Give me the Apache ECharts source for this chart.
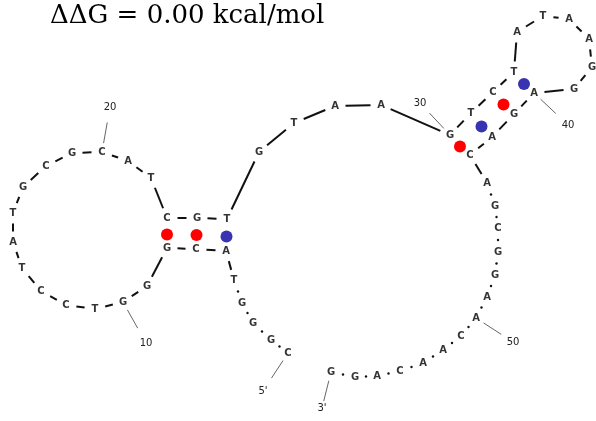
<!DOCTYPE html>
<html>
<head>
<meta charset="utf-8">
<script src="https://cdn.jsdelivr.net/npm/echarts@6/dist/echarts.min.js"></script>
<style>
html,body{margin:0;padding:0;background:#fff;}
#chart{width:596px;height:421px;}
</style>
</head>
<body>
<div id="chart"></div>
<script>
// Sequence (5' -> 3') and nucleotide positions
const seq = "CGGGTACGGGTCCTATGCGCATCGTGTAAGTCTATAAGGAGACAGCGGAACAACAGG".split("");
const posX = [288,271,253,242,234,226,196,167,147,123,95,66,41,22,13,13,23,46,72,102,128,151,167,197,227,259,294,335,381,450,471,493,514,517,543,569,589,592,574,534,514,492,470,487,495,498,498,495,487,476,461,443,423,400,377,355,331];
const posY = [353,340,323,303,280,251,249,248,286,302,309,305,291,268,242,213,187,166,153,152,161,178,218,218,219,152,123,106,105,135,113,92,72,32,16,19,39,67,89,93,114,137,155,183,206,228,252,275,297,318,336,350,363,371,376,377,372];
// dotted backbone links: ranges of link numbers (link n joins nucleotide n and n+1)
const dottedFrom = [1,44];
const dottedTo = [4,56];
// base pairs (1-based positions)
const pairI = [8,7,6,30,31,32,33];
const pairJ = [23,24,25,43,42,41,40];
// numbering ticks: nucleotide index and label text / label anchor
const tickIdx = [1,10,20,30,40,50,57];
const tickText = ["5'","10","20","30","40","50","3'"];
const tickLabX = [263,146,110,420,568,513,322];
const tickLabY = [391,343,107,103,125,342,408];
const titleText = "\u0394\u0394G = 0.00 kcal/mol";

const links = [];
for (let i = 0; i < seq.length - 1; i++) {
  const n = i + 1;
  let s = "L";
  for (let k = 0; k < dottedFrom.length; k++) if (n >= dottedFrom[k] && n <= dottedTo[k]) s = "D";
  links.push([i, s]);
}

const chart = echarts.init(document.getElementById('chart'), null, {renderer:'canvas'});

function isGC(a,b){ const s=a+b; return s==="GC"||s==="CG"; }

const pairData = pairI.map((a,k)=>{
  const i=a-1, j=pairJ[k]-1;
  return {
    value:[(posX[i]+posX[j])/2, (posY[i]+posY[j])/2 + 1.5],
    itemStyle:{color: isGC(seq[i],seq[j]) ? '#ff0000' : '#3833b0', opacity:1}
  };
});

const letterData = seq.map((c,i)=>({value:[posX[i],posY[i]], name:c}));
const tickData = tickIdx.map((n,k)=>({value:[posX[n-1],posY[n-1],tickLabX[k],tickLabY[k]], name:tickText[k]}));

chart.setOption({
  animation:false,
  backgroundColor:'#ffffff',
  title:{
    text:titleText, left:45, top:-2,
    textStyle:{fontFamily:'DejaVu Serif', fontSize:26, fontWeight:'normal', color:'#000'}
  },
  grid:{left:0,right:0,top:0,bottom:0},
  xAxis:{type:'value',min:0,max:596,show:false},
  yAxis:{type:'value',min:0,max:421,inverse:true,show:false},
  series:[
    {
      type:'custom',
      data:links.map(l=>[l[0]]),
      renderItem:function(params, api){
        const i = api.value(0);
        const p1 = api.coord([posX[i],posY[i]]);
        const p2 = api.coord([posX[i+1],posY[i+1]]);
        const dx=p2[0]-p1[0], dy=p2[1]-p1[1];
        const d=Math.sqrt(dx*dx+dy*dy);
        const style = links[i][1];
        if (style === 'D') {
          return {type:'circle', shape:{cx:(p1[0]+p2[0])/2, cy:(p1[1]+p2[1])/2, r:1.2}, style:{fill:'#111'}};
        }
        const g=10.5;
        const ux=dx/d, uy=dy/d;
        return {type:'line', shape:{x1:p1[0]+ux*g, y1:p1[1]+uy*g, x2:p2[0]-ux*g, y2:p2[1]-uy*g},
          style:{stroke:'#111', lineWidth:2}};
      },
      silent:true, z:1
    },
    {
      type:'custom',
      data:tickData,
      renderItem:function(params, api){
        const p1 = api.coord([api.value(0),api.value(1)]);
        const p2 = api.coord([api.value(2),api.value(3)]);
        const dx=p2[0]-p1[0], dy=p2[1]-p1[1];
        const d=Math.sqrt(dx*dx+dy*dy);
        const ux=dx/d, uy=dy/d;
        return {type:'group', children:[
          {type:'line', shape:{x1:p1[0]+ux*9, y1:p1[1]+uy*9, x2:p1[0]+ux*30, y2:p1[1]+uy*30},
            style:{stroke:'#666', lineWidth:1}},
          {type:'text', x:p2[0], y:p2[1], style:{text:tickText[params.dataIndex], fill:'#222',
            font:'10px "DejaVu Sans"', align:'center', verticalAlign:'middle'}}
        ]};
      },
      silent:true, z:2
    },
    {
      type:'scatter',
      data:pairData,
      symbol:'circle', symbolSize:12,
      itemStyle:{opacity:1},
      silent:true, z:3
    },
    {
      type:'scatter',
      data:letterData,
      symbolSize:0,
      label:{show:true, position:'inside', formatter:p=>p.name,
        fontFamily:'DejaVu Sans', fontSize:10, fontWeight:'bold', color:'#000'},
      silent:true, z:4
    }
  ]
});
</script>
</body>
</html>
